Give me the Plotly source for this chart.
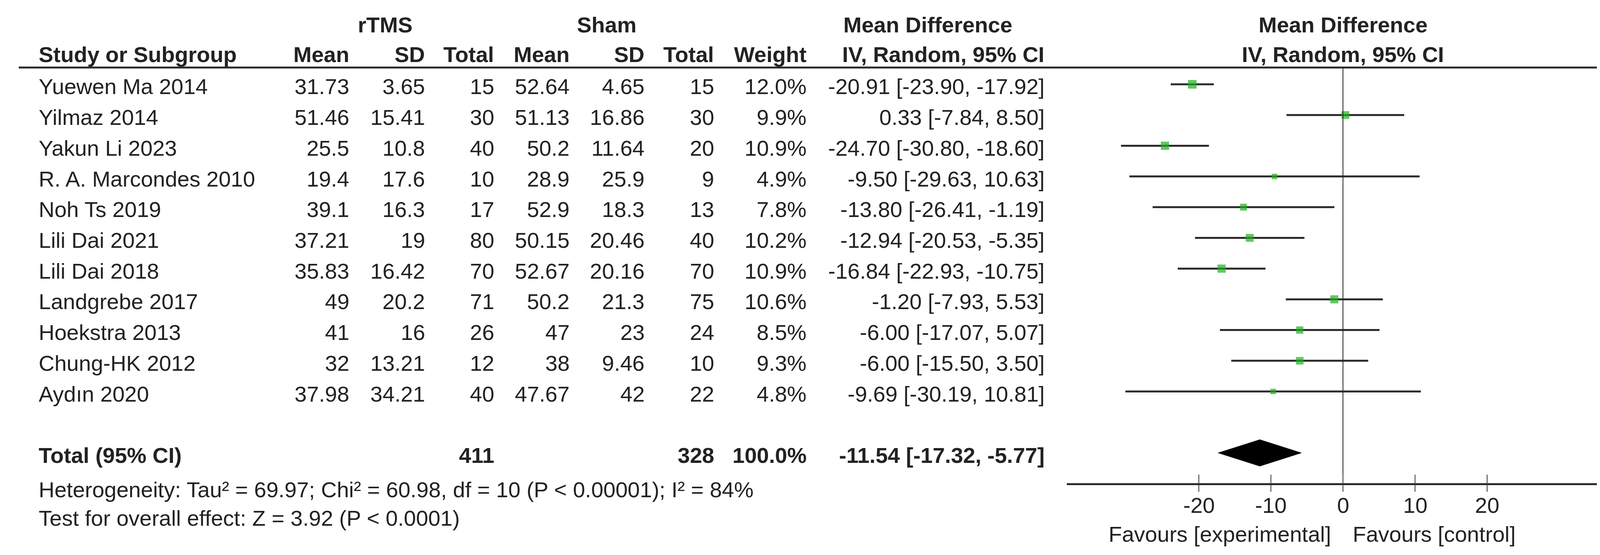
import plotly.graph_objects as go

# study-level data
studies = ["Yuewen Ma 2014", "Yilmaz 2014", "Yakun Li 2023", "R. A. Marcondes 2010",
           "Noh Ts 2019", "Lili Dai 2021", "Lili Dai 2018", "Landgrebe 2017",
           "Hoekstra 2013", "Chung-HK 2012", "Aydın 2020"]
rtms_mean = [31.73, 51.46, 25.5, 19.4, 39.1, 37.21, 35.83, 49, 41, 32, 37.98]
rtms_sd = [3.65, 15.41, 10.8, 17.6, 16.3, 19, 16.42, 20.2, 16, 13.21, 34.21]
rtms_n = [15, 30, 40, 10, 17, 80, 70, 71, 26, 12, 40]
sham_mean = [52.64, 51.13, 50.2, 28.9, 52.9, 50.15, 52.67, 50.2, 47, 38, 47.67]
sham_sd = [4.65, 16.86, 11.64, 25.9, 18.3, 20.46, 20.16, 21.3, 23, 9.46, 42]
sham_n = [15, 30, 20, 9, 13, 40, 70, 75, 24, 10, 22]
weight = [12.0, 9.9, 10.9, 4.9, 7.8, 10.2, 10.9, 10.6, 8.5, 9.3, 4.8]
md = [-20.91, 0.33, -24.70, -9.50, -13.80, -12.94, -16.84, -1.20, -6.00, -6.00, -9.69]
ci_lo = [-23.90, -7.84, -30.80, -29.63, -26.41, -20.53, -22.93, -7.93, -17.07, -15.50, -30.19]
ci_hi = [-17.92, 8.50, -18.60, 10.63, -1.19, -5.35, -10.75, 5.53, 5.07, 3.50, 10.81]

# pooled result
total_rtms = 411
total_sham = 328
total_weight = 100.0
total_md = -11.54
total_lo = -17.32
total_hi = -5.77

heterogeneity = "Heterogeneity: Tau² = 69.97; Chi² = 60.98, df = 10 (P < 0.00001); I² = 84%"
overall = "Test for overall effect: Z = 3.92 (P < 0.0001)"
ticks = [-20, -10, 0, 10, 20]

W, H = 4212, 1422
FONT = "Liberation Sans"
FS = 56
INK = "#222222"
GREEN = "#1fb01f"

# layout in pixels
ROW0, ROW_H = 208, 78.7
TEXT_DY = 6
ZERO_PX, UNIT_PX = 3430, 18.45
AX_L, AX_R, AX_Y = 2723, 4136, 1230
total_row = len(studies) + 1

ann = []


def txt(s, x, y, anchor="right", bold=False, xref="paper"):
    ann.append(dict(text=f"<b>{s}</b>" if bold else s,
                    x=x / W if xref == "paper" else x, y=1 - y / H,
                    xref=xref, yref="paper", xanchor=anchor, yanchor="middle",
                    showarrow=False, font=dict(family=FONT, size=FS, color=INK)))


def fmt(v):
    return f"{v:g}"


# headers
txt("rTMS", 978, 55, "center", True)
txt("Sham", 1545, 55, "center", True)
txt("Mean Difference", 2367, 55, "center", True)
txt("Mean Difference", ZERO_PX, 55, "center", True)
txt("Study or Subgroup", 89, 132, "left", True)
for label, xr in [("Mean", 888), ("SD", 1082), ("Total", 1259), ("Mean", 1452),
                  ("SD", 1644), ("Total", 1822), ("Weight", 2059), ("IV, Random, 95% CI", 2668)]:
    txt(label, xr, 132, "right", True)
txt("IV, Random, 95% CI", ZERO_PX, 132, "center", True)

# study rows
for i, name in enumerate(studies):
    y = ROW0 + ROW_H * i + TEXT_DY
    txt(name, 89, y, "left")
    txt(fmt(rtms_mean[i]), 888, y)
    txt(fmt(rtms_sd[i]), 1082, y)
    txt(str(rtms_n[i]), 1259, y)
    txt(fmt(sham_mean[i]), 1452, y)
    txt(fmt(sham_sd[i]), 1644, y)
    txt(str(sham_n[i]), 1822, y)
    txt(f"{weight[i]:.1f}%", 2059, y)
    txt(f"{md[i]:.2f} [{ci_lo[i]:.2f}, {ci_hi[i]:.2f}]", 2668, y)

# total row
yt = ROW0 + ROW_H * total_row + TEXT_DY
txt("Total (95% CI)", 89, yt, "left", True)
txt(str(total_rtms), 1259, yt, bold=True)
txt(str(total_sham), 1822, yt, bold=True)
txt(f"{total_weight:.1f}%", 2059, yt, bold=True)
txt(f"{total_md:.2f} [{total_lo:.2f}, {total_hi:.2f}]", 2668, yt, bold=True)
txt(heterogeneity, 89, 1246, "left")
txt(overall, 89, 1319, "left")
txt("Favours [experimental]", 3402, 1360, "right")
txt("Favours [control]", 3453, 1360, "left")

# tick labels on the forest axis scale
for t in ticks:
    txt(str(t), t, 1286, "center", xref="x")

fig = go.Figure()

# confidence interval lines
cx, cy = [], []
for i in range(len(studies)):
    cx += [ci_lo[i], ci_hi[i], None]
    cy += [i, i, None]
fig.add_trace(go.Scatter(x=cx, y=cy, mode="lines", line=dict(color="#2a2a2a", width=5),
                         hoverinfo="skip"))

# study estimates, sized by weight
fig.add_trace(go.Scatter(x=md, y=list(range(len(studies))), mode="markers",
                         marker=dict(symbol="square", color=GREEN,
                                     size=[6.35 * w ** 0.5 for w in weight], line=dict(width=0))))

# pooled diamond
half = 34 / ROW_H
fig.add_trace(go.Scatter(x=[total_lo, total_md, total_hi, total_md, total_lo],
                         y=[total_row, total_row - half, total_row, total_row + half, total_row],
                         mode="lines", fill="toself", fillcolor="black",
                         line=dict(color="black", width=1), hoverinfo="skip"))

shapes = [
    dict(type="line", xref="paper", yref="paper", x0=40 / W, x1=4183 / W,
         y0=1 - 165 / H, y1=1 - 165 / H, line=dict(color="#2a2a2a", width=5)),
    dict(type="line", xref="x", yref="paper", x0=0, x1=0,
         y0=1 - 165 / H, y1=1 - AX_Y / H, line=dict(color="#222222", width=2)),
]
# tick marks crossing the axis line
for t in ticks:
    shapes.append(dict(type="line", xref="x", yref="paper", x0=t, x1=t,
                       y0=1 - 1252 / H, y1=1 - 1208 / H, line=dict(color="#333333", width=2)))

fig.update_layout(
    width=W, height=H, margin=dict(l=0, r=0, t=0, b=0),
    paper_bgcolor="white", plot_bgcolor="white", showlegend=False,
    annotations=ann, shapes=shapes,
    xaxis=dict(domain=[AX_L / W, AX_R / W],
               range=[(AX_L - ZERO_PX) / UNIT_PX, (AX_R - ZERO_PX) / UNIT_PX],
               showgrid=False, zeroline=False, showline=True, linewidth=5, linecolor="#2a2a2a",
               ticks="", tickvals=ticks, showticklabels=False),
    yaxis=dict(domain=[1 - AX_Y / H, 1],
               range=[(AX_Y - ROW0) / ROW_H, -ROW0 / ROW_H],
               showgrid=False, zeroline=False, showline=False, showticklabels=False, ticks=""),
)

fig.write_html("out.html")
